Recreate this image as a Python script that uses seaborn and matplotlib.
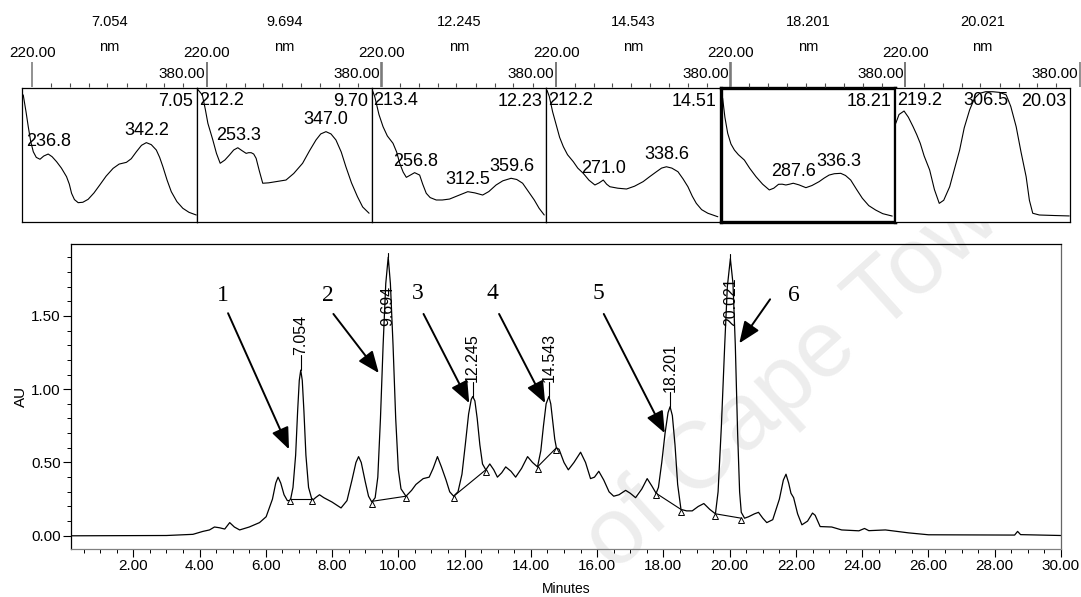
import numpy as np
import matplotlib
matplotlib.use('Agg')
import matplotlib.pyplot as plt
from matplotlib.ticker import MultipleLocator, FixedLocator, StrMethodFormatter
import seaborn as sns

# chromatogram (minutes, AU)
time_min = [0.12, 3.0, 3.8, 4.1, 4.3, 4.45, 4.6, 4.76, 4.91, 5.05, 5.21, 5.5, 5.81, 6.01,
            6.2, 6.30, 6.37, 6.45, 6.55, 6.65, 6.74, 6.82, 6.90, 6.96, 7.01, 7.054, 7.10,
            7.15, 7.21, 7.29, 7.40, 7.5, 7.62, 7.75, 8.0, 8.27, 8.45, 8.6, 8.72, 8.80, 8.88,
            9.0, 9.1, 9.2, 9.30, 9.38, 9.46, 9.54, 9.62, 9.694, 9.76, 9.84, 9.92, 10.00,
            10.08, 10.23, 10.40, 10.53, 10.75, 10.93, 11.05, 11.18, 11.30, 11.44, 11.55,
            11.67, 11.80, 11.92, 12.02, 12.12, 12.20, 12.245, 12.31, 12.38, 12.46, 12.54,
            12.64, 12.76, 12.88, 12.99, 13.12, 13.24, 13.4, 13.54, 13.72, 13.9, 14.05, 14.2,
            14.30, 14.38, 14.46, 14.543, 14.60, 14.66, 14.72, 14.77, 14.85, 15.0, 15.13,
            15.3, 15.5, 15.65, 15.8, 15.92, 16.05, 16.2, 16.36, 16.5, 16.66, 16.86, 17.0,
            17.16, 17.35, 17.51, 17.65, 17.78, 17.85, 17.95, 18.05, 18.14, 18.201, 18.27,
            18.35, 18.43, 18.53, 18.7, 18.87, 19.05, 19.22, 19.4, 19.57, 19.65, 19.75,
            19.85, 19.93, 20.021, 20.10, 20.17, 20.24, 20.30, 20.35, 20.45, 20.57, 20.75,
            20.87, 21.0, 21.12, 21.3, 21.5, 21.62, 21.70, 21.78, 21.85, 21.93, 22.05,
            22.18, 22.35, 22.50, 22.58, 22.73, 23.08, 23.38, 23.9, 24.07, 24.2, 24.7,
            25.4, 26.0, 28.6, 28.69, 28.78, 30.0]
absorb_au = [0.0, 0.002, 0.01, 0.03, 0.04, 0.06, 0.055, 0.046, 0.09, 0.06, 0.04, 0.06, 0.09, 0.13,
             0.25, 0.36, 0.40, 0.36, 0.28, 0.24, 0.24, 0.33, 0.55, 0.85, 1.06, 1.13, 1.06,
             0.85, 0.55, 0.33, 0.24, 0.26, 0.28, 0.26, 0.23, 0.19, 0.24, 0.38, 0.50, 0.54, 0.50,
             0.37, 0.27, 0.23, 0.26, 0.40, 0.80, 1.30, 1.72, 1.90, 1.72, 1.30, 0.80, 0.45,
             0.32, 0.27, 0.31, 0.35, 0.39, 0.40, 0.46, 0.54, 0.47, 0.38, 0.30,
             0.27, 0.30, 0.42, 0.62, 0.83, 0.93, 0.95, 0.92, 0.80, 0.62, 0.49,
             0.45, 0.49, 0.45, 0.40, 0.43, 0.47, 0.44, 0.40, 0.46, 0.54, 0.50, 0.47,
             0.58, 0.75, 0.90, 0.95, 0.90, 0.78, 0.66, 0.60, 0.59, 0.50, 0.45,
             0.50, 0.57, 0.50, 0.39, 0.40, 0.44, 0.38, 0.30, 0.27, 0.28, 0.31, 0.29,
             0.26, 0.32, 0.39, 0.34, 0.29, 0.33, 0.50, 0.70, 0.84, 0.88, 0.82,
             0.62, 0.35, 0.18, 0.17, 0.17, 0.20, 0.22, 0.18, 0.15, 0.30, 0.75,
             1.30, 1.70, 1.89, 1.72, 1.30, 0.70, 0.30, 0.16, 0.12, 0.13, 0.15,
             0.16, 0.12, 0.09, 0.11, 0.25, 0.38, 0.42, 0.36, 0.29, 0.26, 0.15,
             0.075, 0.10, 0.155, 0.14, 0.063, 0.06, 0.04, 0.034, 0.05, 0.035, 0.04,
             0.02, 0.007, 0.005, 0.03, 0.008, 0.002]

peak_rt = [7.054, 9.694, 12.245, 14.543, 18.201, 20.021]
peak_top = [1.13, 1.90, 0.95, 0.95, 0.88, 1.89]
peak_names = ['1', '2', '3', '4', '5', '6']

# integration baselines (start / end of each peak)
base_t0 = [6.74, 9.20, 11.67, 14.20, 17.78, 19.57]
base_a0 = [0.25, 0.235, 0.27, 0.47, 0.29, 0.15]
base_t1 = [7.40, 10.23, 12.64, 14.77, 18.53, 20.35]
base_a1 = [0.25, 0.27, 0.45, 0.60, 0.18, 0.12]

# UV spectra of the six peaks (nm, relative absorbance)
spec_title = ['7.054', '9.694', '12.245', '14.543', '18.201', '20.021']
spec_rt = ['7.05', '9.70', '12.23', '14.51', '18.21', '20.03']

nm_1 = [210, 213, 215.4, 218, 220.8, 224, 228, 232, 236.8, 241, 245.8, 251, 256.5, 259.5,
        261.9, 265, 269, 274, 279.7, 286, 292.2, 299, 306.5, 313, 320.8, 326, 331.5,
        337, 342.2, 347.5, 352.9, 356.5, 360, 364.5, 369, 375, 381.4, 388, 395.8]
ab_1 = [0.946, 0.82, 0.709, 0.60, 0.522, 0.48, 0.466, 0.49, 0.505, 0.485, 0.448, 0.40,
        0.336, 0.28, 0.212, 0.165, 0.142, 0.145, 0.167, 0.215, 0.274, 0.34, 0.398, 0.43,
        0.443, 0.47, 0.522, 0.57, 0.590, 0.575, 0.535, 0.48, 0.41, 0.31, 0.224, 0.15,
        0.10, 0.07, 0.05]
lmax_1 = [236.8, 342.2]

nm_2 = [209.5, 214.8, 218, 220.8, 226.1, 230, 234, 239, 244, 248.5, 252.9, 257.5, 261.9,
        264.5, 267.3, 270, 272.6, 276, 279.7, 286, 294, 304.7, 313, 322.5, 330, 336.9,
        342, 347.6, 353, 358.3, 364, 369, 375, 381.4, 387, 393.9]
ab_2 = [0.99, 0.946, 0.84, 0.734, 0.61, 0.51, 0.436, 0.46, 0.498, 0.535, 0.552, 0.53, 0.51,
        0.515, 0.515, 0.505, 0.473, 0.38, 0.287, 0.29, 0.299, 0.311, 0.36, 0.436, 0.53,
        0.61, 0.655, 0.672, 0.655, 0.61, 0.52, 0.41, 0.29, 0.187, 0.11, 0.063]
lmax_2 = [212.2, 253.3, 347.0]

nm_3 = [210, 212.5, 217, 221.4, 226, 232.1, 236, 239.3, 243, 246.4, 250, 255.3, 260.7,
        264, 267.8, 272, 278.5, 285, 292.8, 302, 312.4, 320, 328.4, 335, 342.8, 350,
        358.9, 365, 371.3, 377, 383.8, 389, 394.5]
ab_3 = [0.98, 0.933, 0.80, 0.709, 0.64, 0.585, 0.52, 0.436, 0.37, 0.331, 0.345, 0.366,
        0.348, 0.28, 0.212, 0.18, 0.162, 0.162, 0.169, 0.195, 0.224, 0.215, 0.199, 0.225,
        0.274, 0.305, 0.324, 0.315, 0.287, 0.23, 0.162, 0.10, 0.05]
lmax_3 = [213.4, 256.8, 312.5, 359.6]

nm_4 = [210, 212.5, 216, 220.4, 223.5, 227.5, 232, 238.2, 243, 248.9, 255, 261.4, 266,
        270.4, 274, 277.5, 286, 295.4, 304, 313.2, 320, 327.5, 333, 338.2, 344, 350.6,
        356, 361.3, 366, 370.3, 376, 382.7, 393.4]
ab_4 = [0.98, 0.933, 0.82, 0.709, 0.63, 0.56, 0.50, 0.448, 0.40, 0.361, 0.31, 0.274, 0.29,
        0.311, 0.28, 0.261, 0.25, 0.244, 0.265, 0.299, 0.335, 0.373, 0.40, 0.41, 0.40,
        0.373, 0.32, 0.261, 0.19, 0.137, 0.09, 0.063, 0.037]
lmax_4 = [212.2, 271.0, 338.6]

nm_5 = [209.5, 211.1, 213.5, 216.5, 220, 223.7, 228, 234.4, 240, 246.9, 254, 261.2, 266,
        271.1, 275, 279, 283, 286.9, 293, 300.5, 307, 314.7, 320, 325.4, 331, 337.9,
        343, 348.6, 355, 361.1, 368, 375.4, 383, 393.2]
ab_5 = [0.96, 0.92, 0.78, 0.66, 0.58, 0.535, 0.50, 0.46, 0.40, 0.336, 0.28, 0.237, 0.25,
        0.279, 0.28, 0.274, 0.28, 0.287, 0.275, 0.254, 0.27, 0.299, 0.325, 0.348, 0.358,
        0.361, 0.345, 0.311, 0.24, 0.175, 0.12, 0.087, 0.06, 0.042]
lmax_5 = [287.6, 336.3]

nm_6 = [209.5, 213, 218.4, 223, 228.1, 232, 235.8, 240, 245.9, 251, 256.2, 261, 267.4,
        272, 278.1, 283, 288.8, 294, 299.5, 306, 313.7, 321, 328.1, 333, 338.8, 344,
        349.5, 353, 356.6, 363.7, 380, 395.8]
ab_6 = [0.734, 0.80, 0.826, 0.78, 0.709, 0.65, 0.585, 0.49, 0.386, 0.24, 0.137, 0.16, 0.261,
        0.38, 0.535, 0.70, 0.834, 0.92, 0.958, 0.97, 0.97, 0.965, 0.946, 0.86, 0.709,
        0.52, 0.336, 0.16, 0.063, 0.05, 0.046, 0.043]
lmax_6 = [219.2, 306.5]

# minor tick marks on the little nm scales
scale_minor = [237.1, 254.6, 271.7, 288.8, 306.6, 324.0, 341.1, 358.6]

sns.set_theme(style='ticks')
plt.rcParams['font.family'] = ['Liberation Sans', 'DejaVu Sans']

W, H = 1081, 597
fig = plt.figure(figsize=(W / 100, H / 100), dpi=100)


def rect(x0, ytop, w, h):
    # pixel box -> figure fraction
    return [x0 / W, 1 - (ytop + h) / H, w / W, h / H]


# ---------------- chromatogram ----------------
ax = fig.add_axes(rect(71, 244, 990, 305))
ax.patch.set_alpha(0)
sns.lineplot(x=time_min, y=absorb_au, ax=ax, color='black', lw=0.9,
             sort=False, estimator=None)
ax.set_xlim(0.12, 30.0)
ax.set_ylim(-0.09, 1.99)

for i in range(len(peak_rt)):
    ax.plot([base_t0[i], base_t1[i]], [base_a0[i], base_a1[i]], color='black', lw=0.8)
    ax.plot([base_t0[i], base_t1[i]], [base_a0[i] - 0.015, base_a1[i] - 0.015], ls='none',
            marker='^', ms=5, mfc='white', mec='black', mew=0.7)
    # retention time label
    if peak_top[i] > 1.5:
        lab_y = 1.43
        line_top = peak_top[i] + 0.03
    else:
        lab_y = peak_top[i] + 0.10
        line_top = lab_y
    ax.plot([peak_rt[i], peak_rt[i]], [peak_top[i], line_top], color='black', lw=0.8)
    ax.text(peak_rt[i], lab_y, spec_title[i], rotation=90, ha='center', va='bottom',
            fontsize=11.5, color='black')

# numbered arrows
num_xy = [(4.69, 1.64), (7.87, 1.64), (10.58, 1.655), (12.84, 1.655), (16.03, 1.655), (21.93, 1.64)]
arrow_from = [(4.86, 1.518), (8.04, 1.513), (10.76, 1.513), (13.04, 1.513), (16.2, 1.513), (21.22, 1.613)]
arrow_to = [(6.70, 0.59), (9.41, 1.11), (12.14, 0.905), (14.43, 0.905), (18.04, 0.70), (20.29, 1.313)]
for i in range(len(peak_names)):
    ax.text(num_xy[i][0], num_xy[i][1], peak_names[i], ha='center', va='center',
            fontsize=17, family=['Liberation Serif', 'DejaVu Serif'], color='black')
    ax.annotate('', xy=arrow_to[i], xytext=arrow_from[i],
                arrowprops=dict(arrowstyle='-|>,head_length=1.1,head_width=0.45',
                                mutation_scale=12, lw=1.4, color='black',
                                shrinkA=0, shrinkB=0))

ax.xaxis.set_major_locator(MultipleLocator(2))
ax.xaxis.set_minor_locator(MultipleLocator(0.5))
ax.xaxis.set_major_formatter(StrMethodFormatter('{x:.2f}'))
ax.yaxis.set_major_locator(MultipleLocator(0.5))
ax.yaxis.set_minor_locator(MultipleLocator(0.1))
ax.yaxis.set_major_formatter(StrMethodFormatter('{x:.2f}'))
ax.tick_params(which='major', direction='out', length=5.5, width=0.8, labelsize=11,
               pad=2, colors='black')
ax.tick_params(which='minor', direction='out', length=3, width=0.7, colors='black')
ax.set_xlabel('Minutes', fontsize=10, labelpad=6, color='black')
ax.set_ylabel('AU', fontsize=11, labelpad=2, color='black')
for s in ax.spines.values():
    s.set_linewidth(0.9)
    s.set_color('black')
ax.spines['bottom'].set_color('0.5')
ax.spines['right'].set_color('0.4')

# faint watermark behind the trace
fig.text(812 / W, 1 - 362 / H, 'of Cape Town', rotation=42, fontsize=68, color='#ededed',
         ha='center', va='center', zorder=-1)

# ---------------- spectra strip ----------------
panels = [(nm_1, ab_1, lmax_1), (nm_2, ab_2, lmax_2), (nm_3, ab_3, lmax_3),
          (nm_4, ab_4, lmax_4), (nm_5, ab_5, lmax_5), (nm_6, ab_6, lmax_6)]
left0, pw, box_top, box_h = 22.3, 174.6, 87.7, 134
for i, (nm, ab, lmax) in enumerate(panels):
    left = left0 + i * pw
    sp = fig.add_axes(rect(left, box_top, pw, box_h))
    sns.lineplot(x=nm, y=ab, ax=sp, color='black', lw=0.8, sort=False, estimator=None)
    sp.set_xlim(209, 396.5)
    sp.set_ylim(0, 1)
    sp.set_xticks([])
    sp.set_yticks([])
    sp.set_xlabel('')
    sp.set_ylabel('')
    for s in sp.spines.values():
        s.set_color('black')
        s.set_linewidth(2.4 if i == 4 else 0.9)
    for lam in lmax:
        yv = min(np.interp(lam, nm, ab) + 0.09, 0.905)
        if lam - 24 < 209:
            sp.text(211, 0.905, f'{lam:.1f}', ha='left', va='center', fontsize=13, color='black')
        else:
            sp.text(lam, yv, f'{lam:.1f}', ha='center', va='center', fontsize=13, color='black')
    sp.text(0.978, 0.9, spec_rt[i], transform=sp.transAxes, ha='right', va='center',
            fontsize=13, color='black')

    # little nm scale sitting on top of the box
    sc = fig.add_axes(rect(left + 10, box_top - 1, 174.4, 1))
    sc.patch.set_alpha(0)
    for s in sc.spines.values():
        s.set_visible(False)
    sc.set_xlim(220, 380)
    sc.yaxis.set_visible(False)
    sc.xaxis.tick_top()
    sc.set_xticks([220, 380])
    sc.set_xticklabels([])
    sc.xaxis.set_minor_locator(FixedLocator(scale_minor))
    sc.tick_params(axis='x', which='major', direction='out', length=18, width=1.1,
                   color='0.45', top=True, bottom=False)
    sc.tick_params(axis='x', which='minor', direction='out', length=3, width=0.8,
                   color='0.3', top=True, bottom=False)

    x220 = left + 10
    x380 = left + 184.4
    fig.text(x220 / W, 1 - 53 / H, '220.00', ha='center', va='center', fontsize=11, color='black')
    fig.text((x380 - 1.5) / W, 1 - 74 / H, '380.00', ha='right', va='center', fontsize=11,
             color='black')
    fig.text((left + pw / 2) / W, 1 - 22 / H, spec_title[i], ha='center', va='center',
             fontsize=10.5, color='black')
    fig.text((left + pw / 2) / W, 1 - 47 / H, 'nm', ha='center', va='center',
             fontsize=10.5, color='black')

fig.savefig('out.png', dpi=100)
